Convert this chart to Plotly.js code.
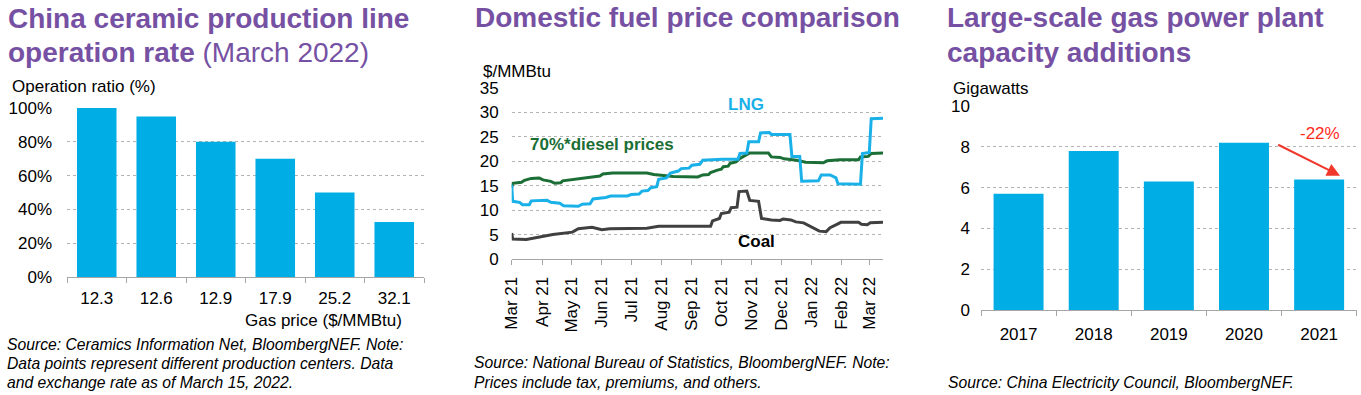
<!DOCTYPE html>
<html><head><meta charset="utf-8">
<script src="https://cdn.plot.ly/plotly-3.0.1.min.js"></script>
<style>html,body{margin:0;padding:0;background:#fff;overflow:hidden}#chart{width:1361px;height:395px}</style>
</head><body><div id="chart"></div>
<script>
// ---------- Data ----------
const gasPriceLabels = ['12.3', '12.6', '12.9', '17.9', '25.2', '32.1'];
const operationRatio = [100, 95, 80, 70, 50, 32.5];

const years = ['2017', '2018', '2019', '2020', '2021'];
const capacityAdditionsGW = [5.7, 7.8, 6.3, 8.2, 6.4];

const dieselDates = ['2021-03-01','2021-03-02','2021-03-11','2021-03-14','2021-03-21','2021-03-29','2021-04-02','2021-04-10','2021-04-14','2021-04-20','2021-04-22','2021-05-02','2021-05-20','2021-05-30','2021-06-02','2021-06-12','2021-07-17','2021-07-24','2021-08-03','2021-08-13','2021-09-07','2021-09-12','2021-09-18','2021-09-20','2021-09-27','2021-10-01','2021-10-03','2021-10-08','2021-10-10','2021-10-16','2021-10-20','2021-10-23','2021-10-27','2021-10-30','2021-11-18','2021-11-21','2021-11-30','2021-12-04','2021-12-17','2021-12-26','2022-01-13','2022-01-17','2022-01-30','2022-02-18','2022-02-20','2022-02-28','2022-03-03','2022-03-15'];
const dieselPrices = [14.6,15.5,15.7,16.1,16.5,16.6,16.2,15.9,15.5,15.6,16.0,16.3,16.7,17.0,17.4,17.6,17.6,17.3,17.1,16.9,16.8,17.2,17.3,17.7,18.2,18.4,18.9,19.0,19.6,19.9,20.6,20.9,21.3,21.7,21.7,20.9,20.8,20.5,20.2,19.8,19.7,20.1,20.3,20.3,20.9,21.0,21.6,21.7];

const lngDates = ['2021-03-01','2021-03-02','2021-03-09','2021-03-12','2021-03-19','2021-03-21','2021-04-06','2021-04-10','2021-04-19','2021-04-23','2021-05-08','2021-05-12','2021-05-20','2021-05-23','2021-06-05','2021-06-10','2021-06-27','2021-07-01','2021-07-09','2021-07-12','2021-07-18','2021-07-21','2021-07-27','2021-07-29','2021-08-06','2021-08-10','2021-08-18','2021-08-21','2021-08-29','2021-09-01','2021-09-09','2021-09-12','2021-10-02','2021-10-18','2021-10-20','2021-10-27','2021-10-29','2021-11-08','2021-11-10','2021-11-19','2021-11-21','2021-12-10','2021-12-12','2021-12-20','2021-12-22','2022-01-08','2022-01-11','2022-01-20','2022-01-26','2022-01-28','2022-02-20','2022-02-22','2022-03-01','2022-03-03','2022-03-15'];
const lngPrices = [15.2,11.8,11.6,11.1,11.1,11.9,12.0,11.6,11.4,10.9,10.8,11.2,11.3,12.3,12.6,12.9,12.9,13.2,13.3,13.9,14.0,14.6,14.8,16.3,16.6,17.6,18.0,18.5,18.6,19.2,19.4,20.2,20.4,20.4,21.6,21.7,24.0,24.0,25.8,25.9,25.5,25.5,21.0,21.0,15.9,16.0,17.2,17.2,16.6,15.4,15.3,21.6,21.8,28.7,28.8];

const coalDates = ['2021-03-01','2021-03-02','2021-03-16','2021-03-29','2021-04-12','2021-05-02','2021-05-08','2021-05-22','2021-05-28','2021-06-01','2021-06-09','2021-07-17','2021-07-29','2021-09-20','2021-09-22','2021-09-29','2021-10-01','2021-10-09','2021-10-11','2021-10-17','2021-10-19','2021-10-27','2021-10-30','2021-11-08','2021-11-11','2021-11-21','2021-11-30','2021-12-03','2021-12-11','2021-12-16','2021-12-24','2021-12-29','2022-01-03','2022-01-09','2022-01-16','2022-01-20','2022-01-28','2022-01-31','2022-02-18','2022-02-21','2022-02-27','2022-03-02','2022-03-15'];
const coalPrices = [5.3,4.1,4.0,4.5,5.0,5.5,6.2,6.5,6.2,6.0,6.2,6.3,6.7,6.7,7.8,8.3,9.3,9.6,10.5,10.6,13.8,13.9,12.0,11.8,8.3,8.0,7.9,8.2,8.0,7.6,7.4,6.9,6.3,5.7,5.6,6.4,7.2,7.5,7.5,7.1,7.0,7.4,7.5];

// ---------- Styling ----------
const W = 1361, H = 395;
const F = 'Liberation Sans, Arial, sans-serif';
const PURPLE = '#7651A3';
const BAR_BLUE = '#00ADE4';
const LNG_BLUE = '#1AB0E8';
const GREEN = '#1B6E35';
const COAL = '#404040';
const GRID = '#B3B3B3';
const AXIS = '#A6A6A6';
const px = x => x / W;
const py = y => 1 - y / H;

function txt(text, x, y, anchor, size, opts) {
  opts = opts || {};
  return {
    xref: 'paper', yref: 'paper', x: px(x), y: py(y), text: text, showarrow: false,
    xanchor: anchor, yanchor: 'middle',
    font: {family: F, size: size, color: opts.color || '#000', weight: opts.weight || 'normal', style: opts.style || 'normal'}
  };
}

const traces = [
  {type: 'bar', x: gasPriceLabels, y: operationRatio, xaxis: 'x', yaxis: 'y', marker: {color: BAR_BLUE}, hoverinfo: 'skip'},
  {type: 'scatter', mode: 'lines', x: dieselDates, y: dieselPrices, xaxis: 'x2', yaxis: 'y2', line: {color: GREEN, width: 3}, hoverinfo: 'skip'},
  {type: 'scatter', mode: 'lines', x: coalDates, y: coalPrices, xaxis: 'x2', yaxis: 'y2', line: {color: COAL, width: 3}, hoverinfo: 'skip'},
  {type: 'scatter', mode: 'lines', x: lngDates, y: lngPrices, xaxis: 'x2', yaxis: 'y2', line: {color: LNG_BLUE, width: 3}, hoverinfo: 'skip'},
  {type: 'bar', x: years, y: capacityAdditionsGW, xaxis: 'x3', yaxis: 'y3', marker: {color: BAR_BLUE}, hoverinfo: 'skip'}
];

const tickFont = {family: F, size: 17, color: '#000'};
const yBase = {showgrid: true, gridcolor: GRID, griddash: 'dot', gridwidth: 1, zeroline: false, showline: false, ticks: '', tickfont: tickFont, fixedrange: true};
const xBar = {type: 'category', showgrid: false, showline: true, linecolor: AXIS, linewidth: 1, ticks: 'outside', tickson: 'boundaries', ticklen: 5, tickcolor: AXIS, tickfont: tickFont, zeroline: false, fixedrange: true};

const layout = {
  width: W, height: H,
  margin: {l: 0, r: 0, t: 0, b: 0, pad: 0},
  paper_bgcolor: '#fff', plot_bgcolor: '#fff',
  showlegend: false,
  bargap: 0.335,
  font: {family: F, size: 17, color: '#000'},
  xaxis: Object.assign({}, xBar, {domain: [px(67), px(424)], anchor: 'y', ticklabelstandoff: 6}),
  yaxis: Object.assign({}, yBase, {domain: [py(277), py(108)], anchor: 'x', range: [0, 100], dtick: 20, ticksuffix: '%', ticklabelstandoff: 14}),
  xaxis2: {type: 'date', domain: [px(511.7), px(883)], anchor: 'y2', range: ['2021-03-01', '2022-03-15'],
    tick0: '2021-03-01', dtick: 'M1', tickformat: '%b %y', tickangle: -90, ticks: 'outside', ticklen: 5, tickcolor: AXIS,
    showline: true, linecolor: AXIS, linewidth: 1, showgrid: false, zeroline: false, tickfont: tickFont, ticklabelstandoff: 5, fixedrange: true},
  yaxis2: Object.assign({}, yBase, {domain: [py(259), py(88)], anchor: 'x2', range: [0, 35], dtick: 5, ticklabelstandoff: 12}),
  xaxis3: Object.assign({}, xBar, {domain: [px(981), px(1356.7)], anchor: 'y3', ticklabelstandoff: 9}),
  yaxis3: Object.assign({}, yBase, {domain: [py(310), py(106)], anchor: 'x3', range: [0, 10], dtick: 2, ticklabelstandoff: 10}),
  annotations: [
    // Panel 1
    txt('China ceramic production line', 6, 18.5, 'left', 28, {color: PURPLE, weight: 'bold'}),
    txt('<b>operation rate</b> (March 2022)', 6, 52, 'left', 28, {color: PURPLE}),
    txt('Operation ratio (%)', 10, 86, 'left', 17),
    txt('Gas price ($/MMBtu)', 404, 320, 'right', 17),
    txt('Source: Ceramics Information Net, BloombergNEF. Note:', 5, 344, 'left', 15.7, {style: 'italic'}),
    txt('Data points represent different production centers. Data', 5, 363.5, 'left', 15.7, {style: 'italic'}),
    txt('and exchange rate as of March 15, 2022.', 5, 382.5, 'left', 15.7, {style: 'italic'}),
    // Panel 2
    txt('Domestic fuel price comparison', 473, 17, 'left', 28, {color: PURPLE, weight: 'bold'}),
    txt('$/MMBtu', 481, 71.5, 'left', 17),
    txt('LNG', 746, 105, 'center', 17, {color: LNG_BLUE, weight: 'bold'}),
    txt('70%*diesel prices', 601.5, 145, 'center', 17, {color: GREEN, weight: 'bold'}),
    txt('Coal', 756.7, 241, 'center', 17, {color: '#000', weight: 'bold'}),
    txt('Source: National Bureau of Statistics, BloombergNEF. Note:', 472, 362.5, 'left', 15.7, {style: 'italic'}),
    txt('Prices include tax, premiums, and others.', 472, 382.5, 'left', 15.7, {style: 'italic'}),
    // Panel 3
    txt('Large-scale gas power plant', 945, 17, 'left', 28, {color: PURPLE, weight: 'bold'}),
    txt('capacity additions', 945, 52, 'left', 28, {color: PURPLE, weight: 'bold'}),
    txt('Gigawatts', 951, 89, 'left', 17),
    txt('-22%', 1320, 133.5, 'center', 17, {color: '#FF2A1A'}),
    {xref: 'paper', yref: 'paper', x: px(1340), y: py(175.7), ax: -63.3, ay: -31.7, axref: 'pixel', ayref: 'pixel',
      text: '', showarrow: true, arrowcolor: '#F0372B', arrowwidth: 2, arrowhead: 2, arrowsize: 1.3, standoff: 0, startstandoff: 0},
    txt('Source: China Electricity Council, BloombergNEF.', 946, 382, 'left', 15.7, {style: 'italic'})
  ]
};

Plotly.newPlot('chart', traces, layout, {staticPlot: true, displayModeBar: false});
</script>
</body></html>
